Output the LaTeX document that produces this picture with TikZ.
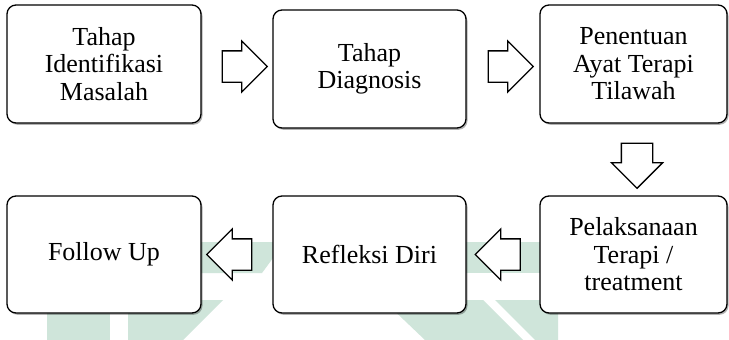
\documentclass[tikz,border=0pt]{standalone}
\usepackage{fontspec}
\setmainfont{Liberation Serif}
\usetikzlibrary{shapes.arrows,shadows,calc}
\definecolor{wm}{RGB}{207,229,218}
\tikzset{
  stagebox/.style={draw=black, line width=1.3pt, fill=white, rounded corners=9pt,
    inner sep=0pt, align=center, font=\fontsize{26}{27.5}\selectfont,
    drop shadow={shadow xshift=1.5pt, shadow yshift=-1.8pt, opacity=0.3, fill=black}},
  blockarrow/.style={single arrow, draw=black, line width=1.3pt, fill=white,
    inner xsep=0pt, inner ysep=15pt, single arrow head extend=10pt,
    single arrow tip angle=90, minimum height=45pt},
  mark/.style={fill=wm, draw=none}
}
\begin{document}
\begin{tikzpicture}[x=1pt,y=-1pt]
\useasboundingbox (0,0) rectangle (729,340);
\fill[white] (0,0) rectangle (729,340);
% watermark
\fill[wm] (190,242) -- (273,242) -- (273,258) -- (262,273) -- (190,273) -- cycle;
\fill[wm] (460,242) -- (545,242) -- (545,273) -- (460,273) -- cycle;
\fill[wm] (47,300) -- (110,300) -- (110,340) -- (47,340) -- cycle;
\fill[wm] (128,300) -- (223,300) -- (183,340) -- (128,340) -- cycle;
\fill[wm] (383,300) -- (483,300) -- (523,340) -- (425,340) -- cycle;
\fill[wm] (495,300) -- (558,300) -- (558,340) -- (535,340) -- cycle;
% boxes
\node[stagebox, minimum width=194pt, minimum height=118pt] (b1) at (104,64) {Tahap\\Identifikasi\\Masalah};
\node[stagebox, minimum width=193pt, minimum height=118pt] (b2) at (369.5,69) {Tahap\\Diagnosis};
\node[stagebox, minimum width=187pt, minimum height=118pt] (b3) at (633.5,64) {Penentuan\\Ayat Terapi\\Tilawah};
\node[stagebox, minimum width=194pt, minimum height=117pt] (b4) at (104,254.5) {Follow Up};
\node[stagebox, minimum width=193pt, minimum height=117pt] (b5) at (369.5,254.5) {Refleksi Diri};
\node[stagebox, minimum width=187pt, minimum height=117pt] (b6) at (633.5,254.5) {Pelaksanaan\\Terapi /\\treatment};
% block arrows
\node[blockarrow] (a1) at ($(b1.east)!0.5!(b2.west)$) {};
\node[blockarrow] (a2) at ($(b2.east)!0.5!(b3.west)$) {};
\node[blockarrow, rotate=-90] (a3) at ($($(b3.south)!0.5!(b6.north)$)+(3.5,-1.5)$) {};
\node[blockarrow, shape border rotate=180] (a4) at ($(b5.west)!0.5!(b4.east)$) {};
\node[blockarrow, shape border rotate=180] (a5) at ($(b6.west)!0.5!(b5.east)+(2.5,0)$) {};
\end{tikzpicture}
\end{document}
